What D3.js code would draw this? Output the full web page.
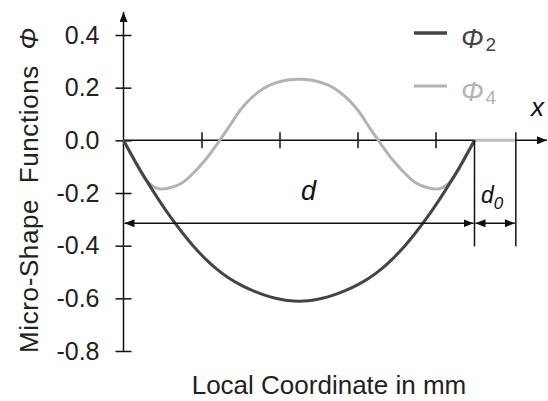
<!DOCTYPE html>
<html>
<head>
<meta charset="utf-8">
<script src="https://cdn.jsdelivr.net/npm/d3@7"></script>
<style>
  body { margin: 0; background: #fff; }
  svg { font-family: "Liberation Sans", Arial, sans-serif; }
  text { white-space: pre; }
</style>
</head>
<body>
<svg id="chart" width="548" height="401"></svg>
<script>

// local coordinate samples (mm) and the two micro-shape functions
let xMm = [0, 0.15, 0.3, 0.45, 0.6, 0.75, 0.9, 1.05, 1.2, 1.35, 1.5, 1.65, 1.8, 1.95, 2.1, 2.25,
           2.4, 2.55, 2.7, 2.85, 3.0, 3.15, 3.3, 3.45, 3.6, 3.75, 3.9, 4.05, 4.2, 4.35, 4.5];
let phi2 = [0, -0.080, -0.155, -0.225, -0.290, -0.349, -0.403, -0.450, -0.490, -0.523, -0.549,
            -0.570, -0.587, -0.600, -0.608, -0.611, -0.608, -0.600, -0.587, -0.570, -0.549,
            -0.523, -0.490, -0.450, -0.403, -0.349, -0.290, -0.225, -0.155, -0.080, 0];
let phi4 = [0, -0.083, -0.155, -0.184, -0.180, -0.162, -0.123, -0.074, -0.014, 0.050, 0.116,
            0.164, 0.198, 0.218, 0.229, 0.232, 0.229, 0.218, 0.198, 0.164, 0.116,
            0.050, -0.014, -0.074, -0.123, -0.162, -0.180, -0.184, -0.155, -0.083, 0];

let yTicks = [-0.8, -0.6, -0.4, -0.2, 0.0, 0.2, 0.4];
let xTicks = [1, 2, 3, 4];
let dEnd = 4.5;     // end of d
let d0End = 5.03;   // end of d0
let dimLevel = -0.315;

let svg = d3.select("#chart");

let x = d3.scaleLinear().domain([0, 4.5]).range([123.5, 474.5]);
let y = d3.scaleLinear().domain([-0.8, 0.4]).range([351, 35]);

let ink = "#111";

// arrow markers
let defs = svg.append("defs");
defs.append("marker")
    .attr("id", "head")
    .attr("viewBox", "0 0 10 8")
    .attr("refX", 10).attr("refY", 4)
    .attr("markerWidth", 10).attr("markerHeight", 8)
    .attr("markerUnits", "userSpaceOnUse")
    .attr("orient", "auto-start-reverse")
  .append("path")
    .attr("d", "M0,0 L10,4 L0,8 Z")
    .attr("fill", ink);

// y axis with cross ticks
let yAxis = d3.axisLeft(y).tickValues(yTicks).tickSize(8).tickPadding(16)
    .tickFormat(d => d.toFixed(1));
let gy = svg.append("g").attr("transform", `translate(${x(0)},0)`).call(yAxis);
gy.select(".domain").remove();
gy.selectAll(".tick line").attr("x1", 8).attr("x2", -8)
    .attr("stroke", ink).attr("stroke-width", 1.5);
gy.selectAll(".tick text")
    .attr("font-size", 25).attr("fill", "#222")
    .attr("font-family", "Liberation Sans, Arial, sans-serif");

svg.append("line")
    .attr("x1", x(0)).attr("x2", x(0))
    .attr("y1", y(-0.8)).attr("y2", 12)
    .attr("stroke", ink).attr("stroke-width", 1.5)
    .attr("marker-end", "url(#head)");

// x axis along zero, ticks without labels
let xAxis = d3.axisBottom(x).tickValues(xTicks).tickSize(7).tickFormat("");
let gx = svg.append("g").attr("transform", `translate(0,${y(0)})`).call(xAxis);
gx.select(".domain").remove();
gx.selectAll(".tick line").attr("y1", -8).attr("y2", 8)
    .attr("stroke", ink).attr("stroke-width", 1.5);

svg.append("line")
    .attr("x1", x(0)).attr("x2", 547)
    .attr("y1", y(0)).attr("y2", y(0))
    .attr("stroke", ink).attr("stroke-width", 1.5)
    .attr("marker-end", "url(#head)");

svg.append("text")
    .attr("x", 531).attr("y", 116)
    .attr("font-size", 26).attr("font-style", "italic").attr("fill", ink)
    .text("x");

// curves
let line = d3.line().curve(d3.curveCatmullRom);
let series = [
    {name: "2", values: phi2, color: "#454545"},
    {name: "4", values: phi4, color: "#b3b3b3"}
];

// Phi4 stays zero over d0
svg.append("line")
    .attr("x1", x(dEnd)).attr("x2", x(d0End))
    .attr("y1", y(0)).attr("y2", y(0))
    .attr("stroke", "#bdbdbd").attr("stroke-width", 3);

svg.selectAll(".curve")
    .data(series.slice().reverse())
    .join("path")
      .attr("class", "curve")
      .attr("fill", "none")
      .attr("stroke", d => d.color)
      .attr("stroke-width", 3)
      .attr("d", d => line(xMm.map((v, i) => [x(v), y(d.values[i])])));

// dimension lines d and d0
let dimY = y(dimLevel);
svg.append("line")
    .attr("x1", x(dEnd)).attr("x2", x(dEnd))
    .attr("y1", y(0)).attr("y2", dimY + 23)
    .attr("stroke", ink).attr("stroke-width", 1.5);
svg.append("line")
    .attr("x1", x(d0End)).attr("x2", x(d0End))
    .attr("y1", y(0) - 8).attr("y2", dimY + 23)
    .attr("stroke", ink).attr("stroke-width", 1.5);
svg.append("line")
    .attr("x1", x(0) + 1).attr("x2", x(dEnd) - 1)
    .attr("y1", dimY).attr("y2", dimY)
    .attr("stroke", ink).attr("stroke-width", 1.5)
    .attr("marker-start", "url(#head)").attr("marker-end", "url(#head)");
svg.append("line")
    .attr("x1", x(dEnd) + 1).attr("x2", x(d0End) - 1)
    .attr("y1", dimY).attr("y2", dimY)
    .attr("stroke", ink).attr("stroke-width", 1.5)
    .attr("marker-start", "url(#head)").attr("marker-end", "url(#head)");

svg.append("text")
    .attr("x", x(dEnd / 2) + 2).attr("y", 200)
    .attr("font-size", 27).attr("font-style", "italic").attr("fill", ink)
    .text("d");
let d0t = svg.append("text")
    .attr("x", 481).attr("y", 203)
    .attr("font-size", 23).attr("font-style", "italic").attr("fill", ink);
d0t.append("tspan").text("d");
d0t.append("tspan").attr("dy", 6).attr("font-size", 17).text("0");

// legend
let legend = svg.selectAll(".legend")
    .data(series)
    .join("g")
      .attr("class", "legend")
      .attr("transform", (d, i) => `translate(414,${33 + i * 53})`);
legend.append("line")
    .attr("x1", 0).attr("x2", 33)
    .attr("stroke", d => d.color)
    .attr("stroke-width", (d, i) => i == 0 ? 3.5 : 3);
let lt = legend.append("text")
    .attr("x", 47).attr("y", 15)
    .attr("font-size", 27).attr("font-style", "italic")
    .attr("fill", d => d.color);
lt.append("tspan").text("Φ");
lt.append("tspan").attr("dy", 3).attr("dx", 2).attr("font-size", 19).attr("font-style", "normal")
    .text(d => d.name);

// axis titles
let yl = svg.append("text")
    .attr("transform", "translate(38,190) rotate(-90)")
    .attr("text-anchor", "middle")
    .attr("font-size", 26).attr("letter-spacing", 0.6).attr("fill", "#222");
yl.append("tspan").text("Micro-Shape  Functions  ");
yl.append("tspan").attr("font-style", "italic").text("Φ");

svg.append("text")
    .attr("x", 329).attr("y", 394)
    .attr("text-anchor", "middle")
    .attr("font-size", 26).attr("fill", "#222")
    .text("Local Coordinate in mm");

</script>
</body>
</html>
